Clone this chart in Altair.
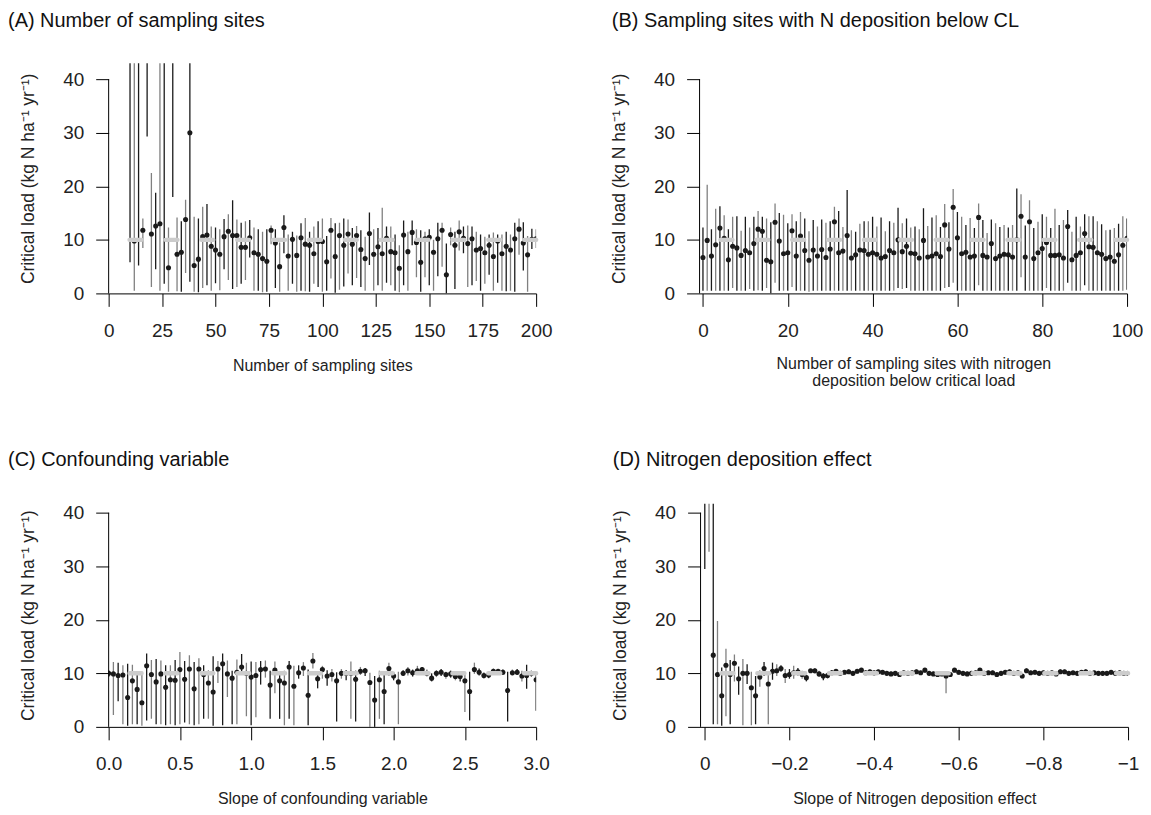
import altair as alt
import pandas as pd

FONT = "Liberation Sans"
BLACK = "#1a1a1a"
GREY = "#808080"
YTITLE = "Critical load (kg N ha\u207b\u00b9 yr\u207b\u00b9)"

# ---------------- Panel A: number of sampling sites ----------------
a_x = list(range(10, 201, 2))
a_mid = [48, 9.8, 48, 11.8, 48, 11.1, 12.6, 13.0, 48, 4.8,
         48, 7.3, 7.7, 13.8, 30.0, 5.2, 6.4, 10.6, 10.9, 8.8,
         8.1, 7.3, 10.6, 11.6, 10.8, 10.8, 8.6, 8.6, 10.4, 7.6,
         7.3, 6.5, 6.0, 11.8, 9.4, 5.0, 12.3, 7.0, 10.1, 7.1,
         10.4, 9.2, 9.0, 7.4, 9.7, 9.7, 5.9, 11.8, 6.9, 10.8,
         9.0, 11.1, 9.2, 10.8, 8.2, 6.5, 11.2, 7.3, 8.7, 7.4,
         10.3, 7.8, 7.6, 4.7, 10.9, 7.8, 11.4, 9.5, 5.8, 10.2,
         10.5, 7.7, 10.2, 11.8, 3.5, 11.0, 9.0, 11.5, 10.3, 9.3,
         10.2, 8.1, 8.4, 7.6, 9.0, 6.9, 9.8, 7.4, 8.8, 8.1,
         10.2, 12.0, 9.4, 7.2, 10.1, 10.2]
a_lo = [5.8, 0.5, 5.2, 8.5, 29.3, 1.2, 4.5, 0.5, 1.8, 0.3,
        18.0, 0.4, 0.3, 3.8, 2.2, 0.3, 0.2, 1.0, 1.5, 0.5,
        1.9, 0.6, 4.5, 2.5, 0.8, 1.2, 1.8, 2.5, 6.7, 0.5,
        0.5, 0.2, 0.3, 9.2, 1.0, 0.3, 7.5, 0.5, 1.8, 0.3,
        0.5, 0.4, 0.3, 1.8, 1.2, 0.3, 0.5, 2.8, 0.1, 0.7,
        1.3, 3.7, 1.5, 2.9, 1.2, 0.5, 5.3, 0.5, 1.5, 0.5,
        2.0, 1.5, 0.5, 0.2, 1.5, 0.5, 9.0, 3.0, 0.3, 3.0,
        1.5, 0.5, 3.2, 5.0, 0.0, 9.0, 0.8, 8.0, 7.5, 1.2,
        1.5, 2.3, 0.5, 1.8, 3.5, 0.5, 2.0, 0.5, 0.4, 0.5,
        0.3, 7.2, 4.3, 0.3, 8.3, 8.5]
a_hi = [60, 60, 60, 14.0, 60, 22.5, 18.8, 60, 60, 12.3,
        60, 14.2, 13.5, 17.5, 60, 14.3, 14.0, 16.2, 16.7, 12.5,
        12.3, 12.0, 13.9, 14.8, 17.4, 13.8, 13.2, 13.5, 13.7, 12.3,
        12.0, 11.5, 12.0, 12.7, 12.0, 9.5, 14.6, 11.0, 11.5, 10.8,
        13.1, 14.1, 11.5, 12.5, 13.5, 14.0, 10.7, 14.1, 13.1, 13.2,
        14.0, 13.8, 12.2, 12.6, 11.8, 10.6, 15.1, 12.0, 12.2, 16.0,
        12.5, 12.5, 11.0, 9.0, 13.6, 11.5, 13.6, 12.0, 11.8, 11.5,
        12.0, 10.0, 13.2, 13.2, 9.3, 12.3, 11.5, 13.6, 12.5, 12.7,
        12.5, 11.5, 11.0, 10.6, 11.0, 11.4, 11.0, 11.0, 11.5, 11.0,
        13.2, 14.0, 13.3, 10.7, 12.1, 12.0]

# ---------------- Panel B: sites with N deposition below CL ----------------
b_x = list(range(0, 101))
b_mid = [6.7, 9.9, 7.0, 9.1, 12.2, 10.3, 6.3, 8.8, 8.5, 7.1,
         8.0, 7.6, 9.3, 12.0, 11.6, 6.2, 5.9, 13.3, 9.8, 7.4,
         7.6, 11.7, 7.0, 10.7, 8.0, 6.2, 8.1, 7.0, 8.2, 6.7,
         8.3, 13.4, 7.6, 7.9, 10.8, 6.6, 7.2, 8.1, 8.0, 7.3,
         7.6, 7.3, 6.6, 6.9, 8.0, 7.6, 10.0, 7.8, 8.8, 7.5,
         7.4, 6.6, 9.9, 6.8, 7.0, 7.4, 6.9, 12.8, 8.3, 16.1,
         10.4, 7.4, 7.7, 6.8, 7.0, 14.2, 7.1, 6.8, 9.3, 6.5,
         7.0, 7.3, 7.2, 6.8, 10.0, 14.4, 6.8, 13.4, 6.5, 7.6,
         8.4, 9.5, 7.1, 7.1, 7.2, 6.6, 12.5, 6.3, 7.1, 7.6,
         11.2, 8.7, 8.6, 7.6, 7.3, 6.5, 6.8, 6.0, 7.2, 9.0,
         10.3]
b_lo = [0.5, 0.5, 0.5, 0.5, 0.5, 0.5, 0.5, 1.0, 0.5, 0.5,
        0.5, 0.8, 0.5, 0.6, 0.5, 1.0, 0.0, 2.0, 0.5, 0.5,
        0.5, 1.2, 0.5, 0.5, 0.5, 0.3, 0.5, 0.5, 0.5, 0.5,
        0.5, 0.5, 0.5, 0.5, 0.5, 0.5, 0.5, 0.5, 0.5, 0.5,
        0.5, 0.5, 0.5, 0.5, 0.5, 0.5, 1.0, 0.8, 1.0, 0.5,
        0.5, 0.5, 0.5, 0.5, 0.5, 0.5, 0.5, 1.0, 1.2, 2.0,
        0.5, 0.5, 0.5, 0.5, 0.5, 1.5, 0.5, 0.5, 0.5, 0.5,
        0.5, 0.5, 0.5, 0.5, 0.5, 3.0, 0.5, 0.5, 0.5, 0.5,
        0.5, 1.0, 0.5, 0.5, 0.5, 0.5, 2.0, 0.5, 0.5, 0.5,
        1.5, 0.5, 0.5, 0.5, 0.5, 0.5, 0.5, 0.5, 0.5, 0.5,
        0.7]
b_hi = [12.3, 20.3, 12.0, 15.8, 16.3, 14.6, 12.0, 14.3, 14.4, 11.7,
        14.3, 12.3, 14.3, 15.4, 14.3, 14.0, 13.3, 16.8, 15.0, 14.7,
        13.1, 14.8, 13.5, 15.2, 14.0, 11.6, 13.7, 12.5, 13.8, 13.2,
        13.5, 16.2, 15.4, 12.4, 19.3, 11.8, 11.5, 13.0, 13.5, 13.5,
        14.3, 12.5, 14.2, 11.6, 13.5, 13.2, 16.0, 13.1, 14.0, 12.3,
        12.5, 12.0, 15.9, 12.6, 14.2, 14.6, 12.4, 16.7, 13.3, 19.5,
        15.2, 14.3, 12.8, 14.1, 12.2, 16.8, 13.7, 11.3, 13.8, 13.1,
        12.4, 12.8, 12.3, 12.8, 19.6, 18.5, 12.7, 17.4, 12.2, 13.4,
        14.8, 14.3, 12.2, 15.8, 12.8, 13.7, 15.6, 11.5, 14.3, 12.5,
        14.8, 14.4, 14.4, 13.5, 12.9, 11.8, 11.9, 12.2, 13.0, 14.4,
        14.0]

# ---------------- Panel C: confounding variable ----------------
c_x = [round(i / 30, 4) for i in range(91)]
c_mid = [10.0, 9.9, 9.6, 9.7, 5.5, 8.6, 7.0, 4.5, 11.4, 9.8,
         8.4, 9.9, 7.4, 8.8, 8.7, 10.7, 8.9, 10.8, 7.1, 10.8,
         9.8, 8.2, 6.5, 10.8, 11.8, 9.9, 9.1, 10.2, 11.2, 10.0,
         9.3, 9.6, 10.7, 10.8, 7.8, 10.6, 8.6, 8.2, 11.2, 7.6,
         10.1, 11.0, 5.9, 12.3, 9.0, 10.7, 9.5, 9.8, 8.6, 10.0,
         10.0, 10.0, 8.9, 10.4, 10.5, 8.3, 5.0, 8.8, 6.6, 10.9,
         9.5, 8.4, 10.0, 10.5, 10.1, 10.5, 10.7, 10.0, 9.1, 10.0,
         10.2, 9.8, 9.9, 9.4, 9.4, 8.6, 6.6, 10.7, 10.2, 9.6,
         9.7, 10.4, 10.4, 10.2, 6.8, 10.1, 10.2, 9.5, 9.6, 10.0,
         8.8]
c_lo = [9.3, 2.2, 4.8, 0.5, 0.2, 0.5, 0.5, 0.2, 1.2, 1.5,
        0.5, 0.5, 0.3, 0.5, 0.3, 0.5, 0.8, 0.5, 0.3, 0.5,
        1.5, 1.5, 0.2, 8.2, 0.3, 5.6, 0.5, 0.5, 9.8, 2.0,
        0.3, 1.8, 7.9, 9.2, 1.5, 6.3, 1.5, 0.3, 1.5, 0.3,
        9.0, 9.5, 0.3, 10.9, 7.2, 9.0, 7.7, 8.5, 1.0, 9.0,
        8.7, 1.5, 1.0, 9.7, 9.5, 0.0, 0.0, 1.5, 0.5, 9.5,
        8.7, 0.5, 9.6, 9.6, 9.4, 9.7, 9.9, 9.4, 8.5, 9.3,
        9.5, 9.0, 9.2, 8.7, 8.5, 2.8, 1.2, 9.9, 9.6, 9.0,
        9.1, 9.9, 9.9, 9.7, 1.0, 9.6, 9.7, 8.5, 7.1, 9.3,
        3.0]
c_hi = [10.6, 12.1, 12.0, 11.5, 11.8, 11.6, 10.0, 10.3, 13.7, 12.5,
        12.7, 12.4, 11.5, 11.5, 12.5, 14.0, 12.3, 13.4, 12.1, 12.8,
        11.5, 10.6, 13.2, 12.3, 13.7, 12.4, 10.5, 12.6, 13.6, 12.0,
        12.2, 12.1, 12.3, 12.4, 10.5, 12.2, 10.4, 10.5, 12.3, 11.4,
        11.5, 12.1, 10.7, 13.8, 10.3, 11.4, 10.6, 10.8, 10.2, 10.8,
        10.6, 12.2, 10.5, 11.2, 11.0, 10.1, 9.5, 10.5, 9.8, 12.0,
        10.2, 10.3, 10.6, 11.2, 10.7, 11.4, 11.2, 10.7, 10.0, 10.6,
        10.8, 10.3, 10.5, 10.0, 10.2, 10.2, 10.3, 12.0, 10.9, 10.2,
        10.3, 10.9, 10.8, 10.8, 10.3, 10.7, 10.8, 10.5, 11.6, 10.5,
        10.2]

# ---------------- Panel D: nitrogen deposition effect ----------------
d_x = [round(-i / 100, 2) for i in range(101)]
d_mid = [48, 48, 13.4, 9.8, 5.8, 11.5, 9.8, 11.9, 9.0, 10.0,
         10.0, 7.3, 5.8, 9.3, 10.9, 8.0, 10.4, 10.5, 10.9, 9.6,
         9.8, 10.1, 10.3, 9.8, 9.2, 10.5, 10.5, 9.9, 9.5, 9.6,
         10.1, 10.4, 10.0, 10.2, 10.3, 10.0, 10.4, 10.6, 10.1, 10.3,
         10.1, 10.3, 10.2, 10.0, 9.9, 10.0, 9.8, 10.1, 10.0, 10.1,
         10.3, 10.1, 10.6, 10.0, 9.9, 9.8, 9.9, 9.5, 9.8, 10.6,
         10.2, 10.0, 9.9, 10.0, 10.1, 10.6, 10.0, 10.1, 10.1, 9.8,
         10.0, 10.2, 10.3, 10.0, 10.1, 9.5, 10.5, 10.1, 10.2, 10.0,
         10.1, 10.0, 10.1, 9.9, 10.3, 10.3, 10.0, 10.1, 10.0, 10.2,
         10.3, 10.0, 10.1, 10.0, 10.0, 10.0, 10.2, 10.0, 10.1, 10.0,
         10.0]
d_lo = [29.5, 32.7, 0.5, 0.5, 0.2, 2.0, 0.5, 8.5, 6.0, 0.3,
        8.0, 0.3, 0.5, 7.5, 9.5, 0.5, 8.8, 9.5, 10.3, 8.2,
        9.0, 9.0, 9.6, 9.0, 8.5, 10.2, 10.0, 9.3, 8.7, 9.0,
        9.7, 10.0, 9.5, 9.8, 9.9, 9.6, 10.0, 10.2, 9.7, 9.9,
        9.6, 9.9, 9.8, 9.6, 9.5, 9.6, 9.4, 9.7, 9.6, 9.7,
        9.9, 9.7, 10.2, 9.6, 9.5, 9.4, 9.5, 6.3, 9.4, 10.2,
        9.8, 9.6, 9.5, 9.6, 9.7, 10.2, 9.6, 9.7, 9.7, 9.4,
        9.6, 9.8, 9.9, 9.6, 9.7, 9.1, 10.1, 9.7, 9.8, 9.6,
        9.7, 9.6, 9.7, 9.5, 9.9, 9.9, 9.6, 9.7, 9.6, 9.8,
        9.9, 9.6, 9.7, 9.6, 9.6, 9.6, 9.8, 9.6, 9.7, 9.6,
        9.7]
d_hi = [60, 60, 60, 19.8, 11.1, 14.6, 12.5, 13.5, 11.3, 12.7,
        11.7, 10.3, 9.5, 10.6, 12.1, 10.2, 12.0, 11.7, 11.5, 10.8,
        10.8, 11.4, 11.0, 10.5, 10.1, 10.8, 10.9, 10.5, 10.0, 10.2,
        10.6, 10.8, 10.4, 10.6, 10.7, 10.4, 10.8, 11.0, 10.5, 10.7,
        10.5, 10.7, 10.6, 10.4, 10.3, 10.4, 10.2, 10.5, 10.4, 10.5,
        10.7, 10.5, 11.0, 10.4, 10.3, 10.2, 10.3, 10.3, 10.2, 11.0,
        10.6, 10.4, 10.3, 10.4, 10.5, 11.0, 10.4, 10.5, 10.5, 10.2,
        10.4, 10.6, 10.7, 10.4, 10.5, 9.9, 10.9, 10.5, 10.6, 10.4,
        10.5, 10.4, 10.5, 10.3, 10.7, 10.7, 10.4, 10.5, 10.4, 10.6,
        10.7, 10.4, 10.5, 10.4, 10.4, 10.4, 10.6, 10.4, 10.5, 10.4,
        10.4]

TRUE_CL = 10
Y_TICKS = [0, 10, 20, 30, 40]


def frame(xs, mid, lo, hi):
    return pd.DataFrame({
        "x": xs, "mid": mid, "lo": lo, "hi": hi,
        "c": ["k" if i % 2 == 0 else "g" for i in range(len(xs))],
    })


def panel(df, title, xtitle, xdomain, xticks, label_expr, ytop, w, h, tpad, tdx, toff):
    xs = alt.Scale(domain=xdomain, nice=False, zero=False)
    ys = alt.Scale(domain=[0, ytop], nice=False, zero=False)
    xaxis = alt.Axis(values=xticks, labelExpr=label_expr, title=xtitle,
                     grid=False, domain=True, domainColor="black", domainWidth=1,
                     ticks=True, tickSize=13, tickColor="black", tickWidth=1,
                     labelFontSize=19, labelColor="#222", labelPadding=15,
                     labelFlush=False, labelOverlap=False,
                     titleFontSize=16, titleFontWeight="normal", titleColor="#222",
                     titlePadding=tpad, titleLineHeight=17)
    yaxis = alt.Axis(values=Y_TICKS, title=YTITLE, grid=False, domain=False,
                     ticks=True, tickSize=13, tickColor="black", tickWidth=1,
                     labelFontSize=19, labelColor="#222", labelPadding=12,
                     titleFontSize=17.5, titleFontWeight="normal", titleColor="#222",
                     titlePadding=25)
    base = alt.Chart(df)
    bars = base.mark_rule(strokeWidth=1.3, clip=True).encode(
        x=alt.X("x:Q", scale=xs, axis=xaxis),
        y=alt.Y("lo:Q", scale=ys, axis=yaxis),
        y2="hi:Q",
        color=alt.Color("c:N", scale=alt.Scale(domain=["k", "g"], range=[BLACK, GREY]),
                        legend=None),
    )
    pts = base.mark_circle(size=26, color=BLACK, opacity=1, clip=True).encode(
        x=alt.X("x:Q", scale=xs, axis=xaxis),
        y=alt.Y("mid:Q", scale=ys, axis=yaxis),
    )
    one = alt.Chart(pd.DataFrame({"v": [TRUE_CL]}))
    ref = one.mark_rule(color="#cccccc", strokeWidth=4.5, strokeDash=[12, 24],
                        strokeCap="round").encode(y=alt.Y("v:Q", scale=ys, axis=yaxis))
    yline = one.mark_rule(color="black", strokeWidth=1).encode(
        x=alt.value(0), y=alt.datum(0), y2=alt.datum(40))
    return alt.layer(bars, pts, ref, yline).properties(
        width=w, height=h,
        title=alt.TitleParams(title, anchor="start", frame="group", fontSize=20,
                              fontWeight="normal", font=FONT, color="#111",
                              offset=toff, dx=tdx),
    )


pA = panel(frame(a_x, a_mid, a_lo, a_hi), "(A) Number of sampling sites",
           "Number of sampling sites", [0, 200], [0, 25, 50, 75, 100, 125, 150, 175, 200],
           "format(datum.value, 'd')", 43, 429, 231, 17, -101, 32)
pB = panel(frame(b_x, b_mid, b_lo, b_hi), "(B) Sampling sites with N deposition below CL",
           ["Number of sampling sites with nitrogen", "deposition below critical load"],
           [-0.8, 100], [0, 20, 40, 60, 80, 100], "format(datum.value, 'd')", 43, 429, 231,
           15, -88, 32)
pC = panel(frame(c_x, c_mid, c_lo, c_hi), "(C) Confounding variable",
           "Slope of confounding variable", [0, 3], [0, 0.5, 1, 1.5, 2, 2.5, 3],
           "format(datum.value, '.1f')", 41.7, 429, 224, 17, -101, 34)
pD = panel(frame(d_x, d_mid, d_lo, d_hi), "(D) Nitrogen deposition effect",
           "Slope of Nitrogen deposition effect", [0.01, -1], [0, -0.2, -0.4, -0.6, -0.8, -1],
           "datum.value == 0 ? '0' : (datum.value == -1 ? '\u22121' : format(datum.value, '.1f'))",
           41.7, 429, 224, 17, -88, 34)

chart = alt.vconcat(
    alt.hconcat(pA, pB, spacing=58),
    alt.hconcat(pC, pD, spacing=61),
    spacing=62,
).properties(padding={"top": 2, "left": 0, "right": 0, "bottom": 0}).configure(
    font=FONT).configure_view(stroke=None).configure_axis(labelFont=FONT, titleFont=FONT)

chart.save("out.html", embed_options={"renderer": "svg", "actions": False})
